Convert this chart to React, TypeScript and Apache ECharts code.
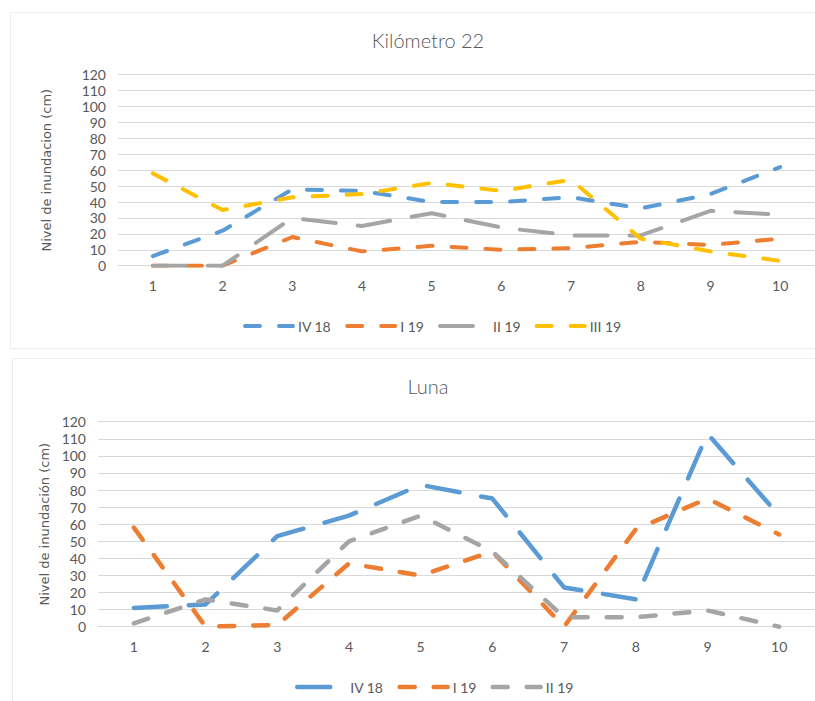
import React, { useEffect, useRef } from "react";
import * as echarts from "echarts";

const categories = ["1", "2", "3", "4", "5", "6", "7", "8", "9", "10"];

// Kilómetro 22
const km22Title = "Kilómetro 22";
const km22Names = ["IV 18", "I 19", "II 19", "III 19"];
const km22IV18 = [6, 22, 48, 47, 40, 40, 43, 36, 45, 62];
const km22I19 = [0, 0, 18, 9, 12.5, 10, 11, 15, 13, 17];
const km22II19 = [0, 0, 30, 25, 33, 24, 19, 19, 34.5, 32];
const km22III19 = [58, 35, 43, 45, 52, 47, 54, 17, 9, 3];

// Luna
const lunaTitle = "Luna";
const lunaNames = ["IV 18", "I 19", "II 19"];
const lunaIV18 = [11, 13, 53, 65, 83, 75, 23, 16, 113, 65];
const lunaI19 = [58, 0, 1, 37, 30, 44, 0, 57, 75, 54];
const lunaII19 = [2, 16, 9.5, 50, 65, 44, 5.5, 5.5, 9.5, 0];

const yTicks = { min: 0, max: 120, interval: 10 };

const BLUE = "#5B9BD5";
const ORANGE = "#ED7D31";
const GRAY = "#A5A5A5";
const YELLOW = "#FFC000";
const TEXT = "#595959";
const FONT = "Lato, 'Noto Sans', sans-serif";

const SHORT_DASH = [15, 19];
const LONG_DASH = [33, 22];

function lineSeries(name: string, data: number[], color: string, dash: number[], width: number) {
  return {
    type: "line",
    name,
    data,
    symbol: "none",
    showSymbol: false,
    color,
    itemStyle: { color },
    lineStyle: { color, width, type: dash, cap: "round", join: "round" },
    emphasis: { disabled: true },
  };
}

function baseOption(o: {
  title: string;
  titleTop: number;
  gridLeft: number;
  gridTop: number;
  gridHeight: number;
  yName: string;
  nameGap: number;
  legendLeft: number;
  legendTop: number;
  legendNames: string[];
  legendLineWidth: number;
  series: any[];
}) {
  return {
    animation: false,
    backgroundColor: "transparent",
    title: {
      text: o.title,
      left: 423,
      textAlign: "center",
      top: o.titleTop,
      textStyle: { fontFamily: FONT, fontSize: 20, fontWeight: 300, color: TEXT },
    },
    grid: { left: o.gridLeft, right: 0, top: o.gridTop, height: o.gridHeight, containLabel: false },
    legend: {
      data: o.legendNames,
      left: o.legendLeft,
      top: o.legendTop,
      itemWidth: 48,
      itemHeight: 14,
      itemGap: 14,
      itemStyle: { opacity: 0, borderWidth: 0 },
      lineStyle: { width: o.legendLineWidth, cap: "round" },
      textStyle: { fontFamily: FONT, fontSize: 14, color: TEXT },
      selectedMode: false,
    },
    xAxis: {
      type: "category",
      data: categories,
      boundaryGap: true,
      axisLine: { show: true, lineStyle: { color: "#D9D9D9", width: 1 } },
      axisTick: { show: false },
      axisLabel: { color: TEXT, fontFamily: FONT, fontSize: 14, margin: 13 },
      splitLine: { show: false },
    },
    yAxis: {
      type: "value",
      min: yTicks.min,
      max: yTicks.max,
      interval: yTicks.interval,
      name: o.yName,
      nameLocation: "middle",
      nameRotate: 90,
      nameGap: o.nameGap,
      nameTextStyle: { fontFamily: "'DejaVu Sans', sans-serif", fontSize: 13, color: TEXT },
      axisLine: { show: false },
      axisTick: { show: false },
      axisLabel: { color: TEXT, fontFamily: FONT, fontSize: 14, margin: 12 },
      splitLine: { show: true, lineStyle: { color: "#D9D9D9", width: 1 } },
    },
    series: o.series,
  };
}

function Chart({ option, style }: { option: any; style: React.CSSProperties }) {
  const ref = useRef<HTMLDivElement>(null);
  useEffect(() => {
    if (!ref.current) return;
    const chart = echarts.init(ref.current, undefined, { renderer: "svg" });
    chart.setOption(option);
    return () => chart.dispose();
  }, [option]);
  return <div ref={ref} style={style} />;
}

const topOption = baseOption({
  title: km22Title,
  titleTop: 25,
  gridLeft: 118,
  gridTop: 74.7,
  gridHeight: 191,
  yName: "Nivel de inundacion (cm)",
  nameGap: 65,
  legendLeft: 238,
  legendTop: 314,
  legendNames: km22Names,
  legendLineWidth: 4,
  series: [
    lineSeries(km22Names[0], km22IV18, BLUE, SHORT_DASH, 4),
    lineSeries(km22Names[1], km22I19, ORANGE, SHORT_DASH, 4),
    lineSeries(km22Names[2], km22II19, GRAY, LONG_DASH, 4),
    lineSeries(km22Names[3], km22III19, YELLOW, SHORT_DASH, 4),
  ],
});

const bottomOption = baseOption({
  title: lunaTitle,
  titleTop: 21,
  gridLeft: 98,
  gridTop: 71.7,
  gridHeight: 205,
  yName: "Nivel de inundación (cm)",
  nameGap: 46,
  legendLeft: 290,
  legendTop: 325,
  legendNames: lunaNames,
  legendLineWidth: 4.5,
  series: [
    lineSeries(lunaNames[0], lunaIV18, BLUE, LONG_DASH, 4.5),
    lineSeries(lunaNames[1], lunaI19, ORANGE, SHORT_DASH, 4.5),
    lineSeries(lunaNames[2], lunaII19, GRAY, SHORT_DASH, 4.5),
  ],
});

export default function App() {
  const frame: React.CSSProperties = {
    position: "absolute",
    borderLeft: "1px solid #EDEDED",
    borderTop: "1px solid #EDEDED",
    borderBottom: "1px solid #EDEDED",
    background: "#FFFFFF",
  };
  return (
    <div style={{ position: "fixed", left: 0, top: 0, width: 815, height: 701, overflow: "hidden", background: "#FFFFFF" }}>
      <div style={{ ...frame, left: 10, top: 12, width: 830, height: 335 }} />
      <div style={{ ...frame, left: 12, top: 358, width: 830, height: 360 }} />
      <Chart option={topOption} style={{ position: "absolute", left: 0, top: 0, width: 815, height: 350 }} />
      <Chart option={bottomOption} style={{ position: "absolute", left: 0, top: 350, width: 815, height: 351 }} />
    </div>
  );
}
